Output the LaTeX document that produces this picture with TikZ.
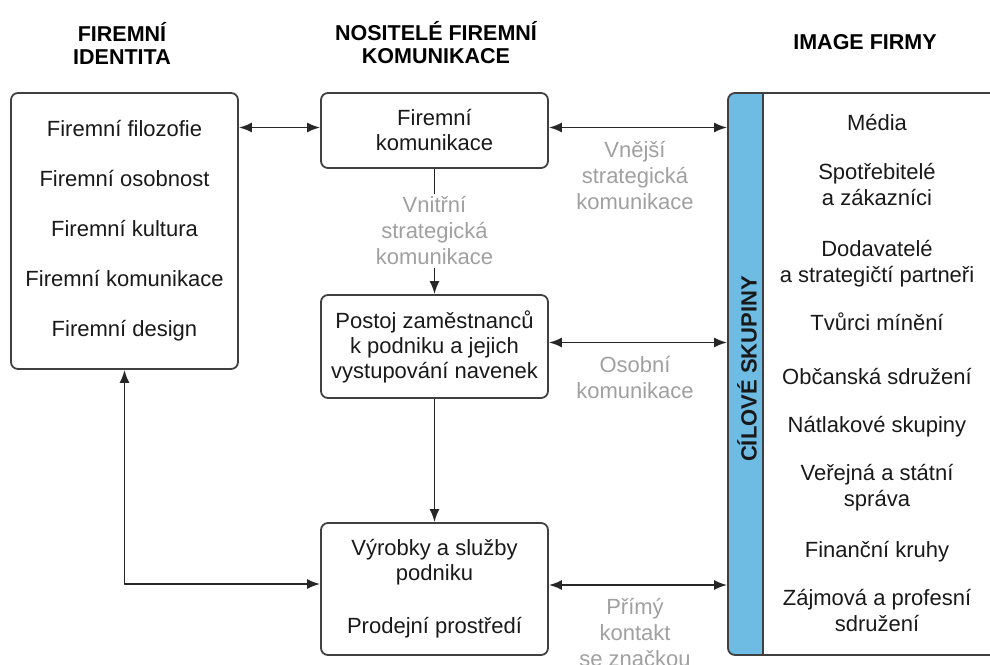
\documentclass[tikz,border=0pt]{standalone}
\usepackage{fontspec}
\setmainfont{Liberation Sans}
\usetikzlibrary{arrows.meta}

\definecolor{barcol}{RGB}{110,188,228}
\definecolor{graytext}{RGB}{160,160,160}

\begin{document}
\begin{tikzpicture}[x=1pt,y=-1pt,>={Latex[length=13pt,width=10pt]},line join=bevel,line width=1.8pt,
  box/.style={draw=black!75,rounded corners=7pt,align=center,text=black!90,
    font=\fontsize{22}{25}\selectfont},
  head/.style={align=center,font=\fontsize{21.5}{23}\selectfont\bfseries},
  item/.style={align=center,text=black!90,font=\fontsize{22}{26}\selectfont},
  note/.style={align=center,text=graytext,inner sep=2pt,font=\fontsize{22}{26}\selectfont},
]

\useasboundingbox (0,0) rectangle (990,664);
\clip (0,0) rectangle (990,664);

% Headers
\node[head] (hident) at (122,43) {FIREMNÍ\\IDENTITA};
\node[head] (hnosit) at (436,43) {NOSITELÉ FIREMNÍ\\KOMUNIKACE};
\node[head] (himage) at (865,42) {IMAGE FIRMY};

% Node: ident
\node[box,minimum width=227,minimum height=276] (ident) at (124.5,231)
  {Firemní filozofie\\[25pt]Firemní osobnost\\[25pt]Firemní kultura\\[25pt]Firemní komunikace\\[25pt]Firemní design};

% Node: komun
\node[box,minimum width=227,minimum height=75] (komun) at (434.5,130.5)
  {Firemní\\komunikace};

% Node: postoj
\node[box,minimum width=227,minimum height=103] (postoj) at (434.5,346.5)
  {Postoj zaměstnanců\\k podniku a jejich\\vystupování navenek};

% Node: vyrobky
\node[box,minimum width=227,minimum height=132] (vyrobky) at (434.5,589)
  {Výrobky a služby\\podniku\\[28pt]Prodejní prostředí};

% Node: skupiny (blue bar and list)
\fill[barcol,rounded corners=7pt] (728,93) rectangle (763,655);
\fill[barcol] (745,93) rectangle (763,655);
\draw[black!75] (763,93) -- (763,655);
\node[box,minimum width=272,minimum height=562] (skupiny) at (864,374) {};
\node[rotate=90,text=black!90,font=\fontsize{22}{25}\selectfont\bfseries] (cilove) at (747,369) {CÍLOVÉ SKUPINY};

\node[item] (media) at (877,123) {Média};
\node[item] (spotreb) at (877,185) {Spotřebitelé\\a zákazníci};
\node[item] (dodav) at (877,263.5) {Dodavatelé\\a strategičtí partneři};
\node[item] (tvurci) at (877,322) {Tvůrci mínění};
\node[item] (obcan) at (877,377) {Občanská sdružení};
\node[item] (natlak) at (877,427) {Nátlakové skupiny};
\node[item] (verej) at (877,487.5) {Veřejná a státní\\správa};
\node[item] (financ) at (877,552) {Finanční kruhy};
\node[item] (zajmov) at (877,610) {Zájmová a profesní\\sdružení};

% Edge labels
\node[note] (vnitrni) at (434.5,231) {Vnitřní\\strategická\\komunikace};
\node[note] (vnejsi) at (635,176) {Vnější\\strategická\\komunikace};
\node[note] (osobni) at (635,378) {Osobní\\komunikace};
\node[note] (primy) at (635,632) {Přímý\\kontakt\\se značkou};

% Edge: ident <-> komun
\draw [<->,black!85] ([yshift=3pt]komun.west -| ident.east) -- ([yshift=3pt]komun.west);

% Edge: komun <-> skupiny
\draw [<->,black!85] ([yshift=3pt]komun.east) -- ([yshift=3pt]komun.east -| skupiny.west);

% Edge: komun -> postoj
\draw [black!85] (komun.south) -- (vnitrni.north);
\draw [->,black!85] (vnitrni.south) -- (postoj.north);

% Edge: postoj <-> skupiny
\draw [<->,black!85] ([yshift=4pt]postoj.east) -- ([yshift=4pt]postoj.east -| skupiny.west);

% Edge: postoj -> vyrobky
\draw [->,black!85] (postoj.south) -- (vyrobky.north);

% Edge: ident <-> vyrobky
\draw [<->,black!85] (ident.south) |- ([yshift=5pt]vyrobky.west);

% Edge: vyrobky <-> skupiny
\draw [<->,black!85] ([yshift=4pt]vyrobky.east) -- ([yshift=4pt]vyrobky.east -| skupiny.west);

\end{tikzpicture}
\end{document}
